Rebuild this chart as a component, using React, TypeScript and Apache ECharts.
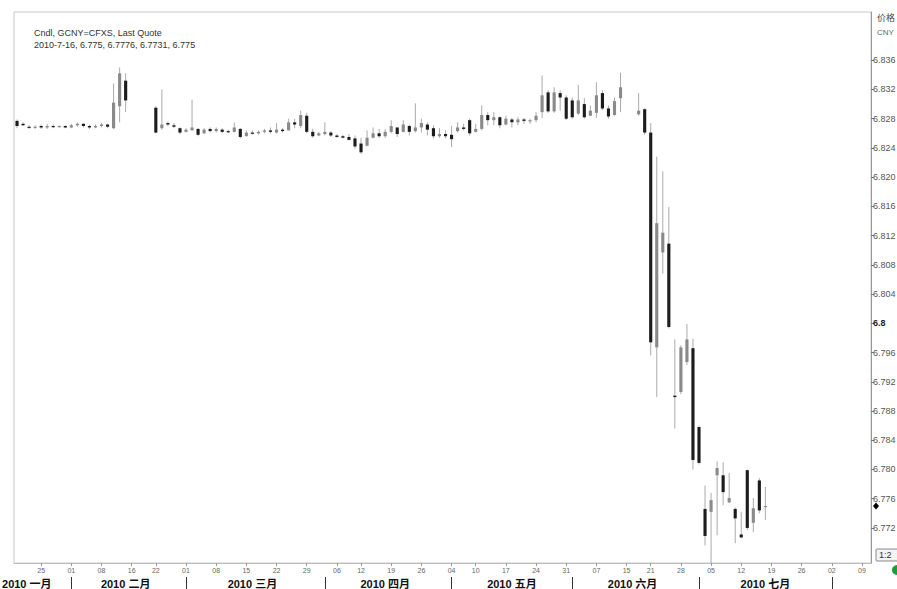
import React, { useEffect, useRef } from "react";
import * as echarts from "echarts";

// Trading days shown on the axis, per month of 2010
const janDays = [19, 20, 21, 22, 25, 26, 27, 28, 29];
const febDays = [1, 2, 3, 4, 5, 8, 9, 10, 11, 12, 16, 17, 18, 19, 22, 23, 24, 25, 26];
const marDays = [1, 2, 3, 4, 5, 8, 9, 10, 11, 12, 15, 16, 17, 18, 19, 22, 23, 24, 25, 26, 29, 30, 31];
const aprDays = [1, 2, 6, 7, 8, 9, 12, 13, 14, 15, 16, 19, 20, 21, 22, 23, 26, 27, 28, 29, 30];
const mayDays = [4, 5, 6, 7, 10, 11, 12, 13, 14, 17, 18, 19, 20, 21, 24, 25, 26, 27, 28, 31];
const junDays = [1, 2, 3, 4, 7, 8, 9, 10, 11, 15, 16, 17, 18, 21, 22, 23, 24, 25, 28, 29, 30];
const julDays = [1, 2, 5, 6, 7, 8, 9, 12, 13, 14, 15, 16, 19, 20, 21, 22, 23, 26, 27, 28, 29, 30];
const augDays = [2, 3, 4, 5, 6, 9, 10];

const monthNames = ["2010 一月", "2010 二月", "2010 三月", "2010 四月", "2010 五月", "2010 六月", "2010 七月", "2010 八月"];
const labelledMonths = [1, 2, 3, 4, 5, 6, 7];

// Quotes: [open, close, low, high]; null = no quote that day
type Q = [number, number, number, number] | null;
const janQuotes: Q[] = [
  [6.8277, 6.8270, 6.8267, 6.8279], [6.8273, 6.8271, 6.8270, 6.8275], [6.8269, 6.8268, 6.8266, 6.8271],
  [6.8268, 6.8269, 6.8266, 6.8271], [6.8270, 6.8268, 6.8266, 6.8272], [6.8268, 6.8270, 6.8266, 6.8273],
  [6.8270, 6.8269, 6.8267, 6.8272], [6.8269, 6.8270, 6.8268, 6.8271], [6.8270, 6.8268, 6.8267, 6.8271],
];
const febQuotes: Q[] = [
  [6.8268, 6.8271, 6.8267, 6.8273], [6.8271, 6.8273, 6.8269, 6.8275], [6.8273, 6.8270, 6.8268, 6.8274],
  [6.8270, 6.8268, 6.8266, 6.8272], [6.8268, 6.8270, 6.8267, 6.8272], [6.8270, 6.8272, 6.8268, 6.8274],
  [6.8272, 6.8269, 6.8267, 6.8273], [6.8267, 6.8302, 6.8266, 6.8328], [6.8297, 6.8342, 6.8275, 6.8350],
  [6.8332, 6.8305, 6.8289, 6.8342], null, null, null, null,
  [6.8295, 6.8261, 6.8260, 6.8297], [6.8267, 6.8272, 6.8265, 6.8320], [6.8274, 6.8272, 6.8270, 6.8276],
  [6.8271, 6.8269, 6.8267, 6.8274], [6.8267, 6.8261, 6.8259, 6.8268],
];
const marQuotes: Q[] = [
  [6.8262, 6.8265, 6.8261, 6.8267], [6.8264, 6.8268, 6.8264, 6.8306], [6.8266, 6.8258, 6.8256, 6.8267],
  [6.8260, 6.8265, 6.8259, 6.8267], [6.8266, 6.8263, 6.8261, 6.8268], [6.8263, 6.8266, 6.8261, 6.8268],
  [6.8265, 6.8262, 6.8260, 6.8267], [6.8263, 6.8262, 6.8260, 6.8265], [6.8262, 6.8268, 6.8261, 6.8275],
  [6.8266, 6.8255, 6.8253, 6.8267], [6.8256, 6.8261, 6.8256, 6.8264], [6.8261, 6.8260, 6.8258, 6.8264],
  [6.8260, 6.8262, 6.8258, 6.8264], [6.8262, 6.8264, 6.8260, 6.8266], [6.8264, 6.8262, 6.8260, 6.8268],
  [6.8261, 6.8265, 6.8260, 6.8274], [6.8265, 6.8263, 6.8261, 6.8267], [6.8264, 6.8275, 6.8264, 6.8280],
  [6.8275, 6.8272, 6.8267, 6.8280], [6.8270, 6.8285, 6.8267, 6.8291], [6.8284, 6.8262, 6.8260, 6.8288],
  [6.8262, 6.8256, 6.8254, 6.8266], [6.8257, 6.8260, 6.8256, 6.8262],
];
const aprQuotes: Q[] = [
  [6.8259, 6.8262, 6.8257, 6.8275], [6.8261, 6.8257, 6.8255, 6.8263], [6.8257, 6.8255, 6.8254, 6.8259],
  [6.8256, 6.8254, 6.8253, 6.8258], [6.8255, 6.8251, 6.8250, 6.8259], [6.8253, 6.8242, 6.8239, 6.8257],
  [6.8246, 6.8234, 6.8232, 6.8254], [6.8243, 6.8254, 6.8242, 6.8264], [6.8254, 6.8260, 6.8253, 6.8268],
  [6.8260, 6.8256, 6.8254, 6.8266], [6.8256, 6.8262, 6.8254, 6.8266], [6.8262, 6.8270, 6.8260, 6.8278],
  [6.8268, 6.8259, 6.8255, 6.8268], [6.8262, 6.8272, 6.8261, 6.8278], [6.8270, 6.8262, 6.8257, 6.8272],
  [6.8263, 6.8268, 6.8261, 6.8301], [6.8268, 6.8274, 6.8261, 6.8280], [6.8272, 6.8265, 6.8257, 6.8275],
  [6.8267, 6.8256, 6.8253, 6.8271], [6.8256, 6.8259, 6.8254, 6.8267], [6.8259, 6.8256, 6.8253, 6.8264],
];
const mayQuotes: Q[] = [
  [6.8258, 6.8252, 6.8241, 6.8270], [6.8263, 6.8268, 6.8261, 6.8275], [6.8268, 6.8266, 6.8264, 6.8273],
  [6.8278, 6.8260, 6.8257, 6.8280], [6.8262, 6.8266, 6.8261, 6.8273], [6.8266, 6.8285, 6.8264, 6.8298],
  [6.8285, 6.8278, 6.8271, 6.8289], [6.8278, 6.8282, 6.8271, 6.8289], [6.8282, 6.8271, 6.8267, 6.8283],
  [6.8272, 6.8280, 6.8271, 6.8284], [6.8279, 6.8275, 6.8268, 6.8281], [6.8275, 6.8279, 6.8271, 6.8282],
  [6.8279, 6.8277, 6.8273, 6.8281], [6.8277, 6.8278, 6.8273, 6.8280], [6.8278, 6.8284, 6.8275, 6.8289],
  [6.8289, 6.8312, 6.8281, 6.8339], [6.8316, 6.8290, 6.8288, 6.8319], [6.8290, 6.8316, 6.8288, 6.8323],
  [6.8315, 6.8309, 6.8291, 6.8319], [6.8309, 6.8280, 6.8278, 6.8312],
];
const junQuotes: Q[] = [
  [6.8305, 6.8282, 6.8280, 6.8309], [6.8287, 6.8305, 6.8285, 6.8326], [6.8300, 6.8282, 6.8280, 6.8308],
  [6.8284, 6.8291, 6.8284, 6.8298], [6.8288, 6.8312, 6.8281, 6.8330], [6.8315, 6.8294, 6.8292, 6.8319],
  [6.8294, 6.8283, 6.8280, 6.8298], [6.8285, 6.8304, 6.8284, 6.8309], [6.8308, 6.8323, 6.8289, 6.8343],
  null, null,
  [6.8286, 6.8291, 6.8284, 6.8315], [6.8293, 6.8261, 6.8258, 6.8294], [6.8261, 6.7974, 6.7956, 6.8274],
  [6.7967, 6.8137, 6.7899, 6.8228], [6.8097, 6.8124, 6.8068, 6.8208], [6.8109, 6.7995, 6.7993, 6.8159],
  [6.7901, 6.7899, 6.7856, 6.7978], [6.7906, 6.7967, 6.7903, 6.7970], [6.7947, 6.7978, 6.7943, 6.7999],
  [6.7966, 6.7813, 6.7800, 6.7979],
];
const julQuotes: Q[] = [
  [6.7858, 6.7809, 6.7807, 6.7860], [6.7746, 6.7709, 6.7696, 6.7778], [6.7742, 6.7758, 6.7660, 6.7768],
  [6.7792, 6.7802, 6.7710, 6.7811], [6.7792, 6.7769, 6.7751, 6.7810], [6.7755, 6.7761, 6.7754, 6.7795],
  [6.7746, 6.7733, 6.7699, 6.7748], [6.7711, 6.7707, 6.7706, 6.7742], [6.7799, 6.7720, 6.7717, 6.7800],
  [6.7727, 6.7747, 6.7714, 6.7761], [6.7785, 6.7744, 6.7740, 6.7788], [6.7750, 6.7750, 6.7731, 6.7776],
];

const yTicks = [6.772, 6.776, 6.78, 6.784, 6.788, 6.792, 6.796, 6.8, 6.804, 6.808, 6.812, 6.816, 6.82, 6.824, 6.828, 6.832, 6.836];
const yMin = 6.7672;
const yMax = 6.8426;
const lastClose = 6.775;
const titleLines = ["Cndl, GCNY=CFXS, Last Quote", "2010-7-16, 6.775, 6.7776, 6.7731, 6.775"];
const unitLines = ["价格", "CNY"];
const zoomBadge = "1:2";

const FONT = "'Liberation Sans', 'DejaVu Sans', 'Noto Sans CJK SC', sans-serif";

export default function App() {
  const ref = useRef<HTMLDivElement>(null);

  useEffect(() => {
    document.body.style.margin = "0";
    if (!ref.current) return;
    const chart = echarts.init(ref.current, undefined, { renderer: "svg" });

    const allMonths = [janDays, febDays, marDays, aprDays, mayDays, junDays, julDays, augDays];
    const allQuotes = [janQuotes, febQuotes, marQuotes, aprQuotes, mayQuotes, junQuotes, julQuotes];
    const cats: string[] = [];
    const monthOf: number[] = [];
    allMonths.forEach((days, mi) => {
      days.forEach((d) => {
        cats.push(`2010-${String(mi + 1).padStart(2, "0")}-${String(d).padStart(2, "0")}`);
        monthOf.push(mi + 1);
      });
    });
    const quotes: Q[] = ([] as Q[]).concat(...allQuotes);
    const data: any[] = [];
    quotes.forEach((q, i) => {
      if (q) data.push([i, q[0], q[1], q[2], q[3]]);
    });

    const dow = (s: string) => new Date(s + "T00:00:00Z").getUTCDay();
    const weekStart = new Set<number>();
    for (let i = 1; i < cats.length; i++) {
      if (dow(cats[i]) <= dow(cats[i - 1])) weekStart.add(i);
    }
    const monthStart = new Set<number>();
    for (let i = 1; i < cats.length; i++) if (monthOf[i] !== monthOf[i - 1]) monthStart.add(i);
    const monthLabelIdx = new Set<number>();
    labelledMonths.forEach((m) => {
      const idxs = monthOf.map((mm, i) => (mm === m ? i : -1)).filter((i) => i >= 0);
      if (m === 1) monthLabelIdx.add(idxs[0]);
      else monthLabelIdx.add(Math.round((idxs[0] + idxs[idxs.length - 1]) / 2));
    });

    const monthStyle = { fontSize: 11, fontWeight: "bold", color: "#111", fontFamily: FONT };

    const option: any = {
      animation: false,
      backgroundColor: "#ffffff",
      textStyle: { fontFamily: FONT },
      title: {
        text: titleLines.join("\n"),
        left: 29,
        top: 22,
        textStyle: { fontSize: 9, fontWeight: "normal", color: "#333", lineHeight: 12, fontFamily: FONT },
      },
      grid: {
        left: 14,
        right: 26,
        top: 12,
        bottom: 26,
        containLabel: false,
        outerBoundsMode: "none",
        show: true,
        borderColor: "#c8c8c8",
        borderWidth: 1,
        backgroundColor: "#ffffff",
      },
      xAxis: [
        {
          type: "category",
          data: cats,
          boundaryGap: true,
          position: "bottom",
          axisLine: { show: true, lineStyle: { color: "#bdbdbd", width: 1 } },
          axisTick: {
            show: true,
            alignWithLabel: true,
            interval: (i: number) => weekStart.has(i),
            length: 3,
            lineStyle: { color: "#999" },
          },
          axisLabel: {
            interval: (i: number) => weekStart.has(i),
            formatter: (v: string) => v.slice(8, 10),
            fontSize: 7,
            color: "#666",
            margin: 4,
            fontFamily: FONT,
          },
          splitLine: { show: false },
        },
        {
          type: "category",
          data: cats,
          boundaryGap: true,
          position: "bottom",
          offset: 14,
          axisLine: { show: false },
          axisTick: {
            show: true,
            alignWithLabel: true,
            interval: (i: number) => monthStart.has(i),
            length: 12,
            lineStyle: { color: "#333" },
          },
          axisLabel: {
            interval: (i: number) => monthLabelIdx.has(i),
            formatter: (v: string) => {
              const m = parseInt(v.slice(5, 7), 10);
              const name = monthNames[m - 1];
              return m === 1 ? `{j|${name}}` : name;
            },
            ...monthStyle,
            margin: 1,
            hideOverlap: false,
            rich: { j: { ...monthStyle, width: 30, align: "left" } },
          },
          splitLine: { show: false },
        },
      ],
      yAxis: {
        type: "value",
        position: "right",
        min: yMin,
        max: yMax,
        axisLine: { show: true, lineStyle: { color: "#999", width: 1 } },
        axisTick: { show: true, length: 3, customValues: yTicks, lineStyle: { color: "#777" } },
        axisLabel: {
          customValues: yTicks,
          margin: 2,
          fontSize: 9,
          color: "#555",
          fontFamily: FONT,
          formatter: (v: number) => (Math.abs(v - 6.8) < 1e-9 ? "{b|6.8}" : v.toFixed(3)),
          rich: { b: { fontWeight: "bold", fontSize: 9, color: "#222", fontFamily: FONT } },
        },
        splitLine: { show: false },
      },
      series: [
        {
          type: "custom",
          xAxisIndex: 0,
          yAxisIndex: 0,
          clip: true,
          data,
          encode: { x: 0, y: [1, 2, 3, 4] },
          renderItem: (params: any, api: any) => {
            const i = api.value(0);
            const o = api.value(1);
            const c = api.value(2);
            const l = api.value(3);
            const h = api.value(4);
            const pH = api.coord([i, h]);
            const pL = api.coord([i, l]);
            const pO = api.coord([i, o]);
            const pC = api.coord([i, c]);
            const w = api.size([1, 0])[0] * 0.52;
            const up = c >= o;
            const top = Math.min(pO[1], pC[1]);
            let hgt = Math.abs(pO[1] - pC[1]);
            if (hgt < 1.2) hgt = 1.2;
            return {
              type: "group",
              children: [
                {
                  type: "line",
                  shape: { x1: pH[0], y1: pH[1], x2: pL[0], y2: pL[1] },
                  style: { stroke: "#aaaaaa", lineWidth: 1 },
                },
                {
                  type: "rect",
                  shape: { x: pO[0] - w / 2, y: top, width: w, height: hgt },
                  style: { fill: up ? "#8a8a8a" : "#1c1c1c" },
                },
              ],
            };
          },
        },
      ],
    };

    chart.setOption(option);

    const yLast = chart.convertToPixel({ yAxisIndex: 0 }, lastClose) as number;
    const xAxisEnd = 871;
    chart.setOption({
      graphic: [
        {
          type: "text",
          left: 877,
          top: 13,
          style: { text: unitLines[0], fontSize: 9, fill: "#444", fontFamily: FONT },
        },
        {
          type: "text",
          left: 877,
          top: 28,
          style: { text: unitLines[1], fontSize: 8, fill: "#666", fontFamily: FONT },
        },
        {
          type: "polygon",
          shape: {
            points: [
              [xAxisEnd + 2, yLast],
              [xAxisEnd + 5, yLast - 3.5],
              [xAxisEnd + 8, yLast],
              [xAxisEnd + 5, yLast + 3.5],
            ],
          },
          style: { fill: "#000" },
        },
        {
          type: "rect",
          shape: { x: 876, y: 549, width: 24, height: 12, r: 1 },
          style: { fill: "#f4f4f4", stroke: "#888", lineWidth: 1 },
        },
        {
          type: "text",
          left: 879,
          top: 550.5,
          style: { text: zoomBadge, fontSize: 9, fill: "#333", fontFamily: FONT },
        },
        {
          type: "circle",
          shape: { cx: 897, cy: 570, r: 5 },
          style: { fill: "#1e9b3c" },
        },
      ],
    });

    return () => chart.dispose();
  }, []);

  return <div ref={ref} style={{ width: 897, height: 589 }} />;
}
